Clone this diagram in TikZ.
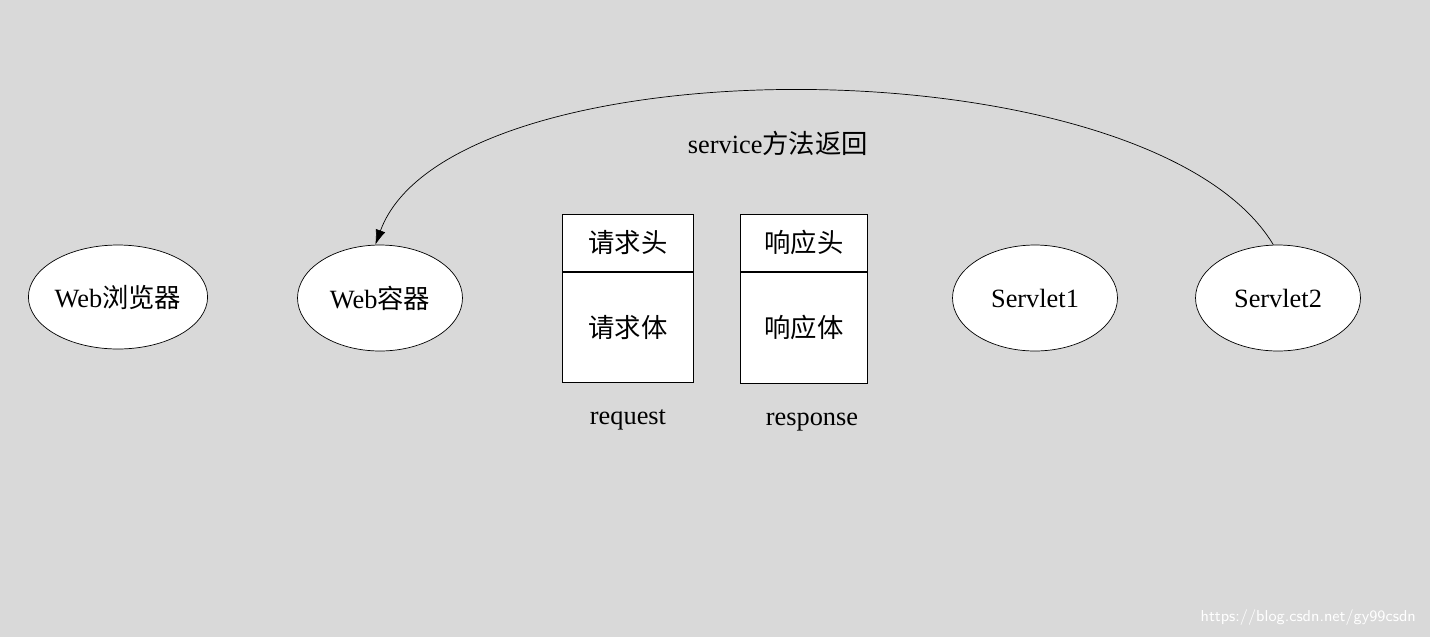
\documentclass[tikz,border=0pt]{standalone}
\usepackage{fontspec}
\setmainfont{Liberation Serif}
\newfontfamily\cjk{Noto Sans CJK SC}
\usetikzlibrary{positioning,arrows.meta,shapes.geometric}
\definecolor{bgcolor}{RGB}{217,217,217}

\begin{document}
\begin{tikzpicture}[
  x=0.02cm, y=-0.02cm,
  font=\fontsize{15}{18}\selectfont,
  comp/.style={ellipse, draw, fill=white, minimum width=3.3cm, minimum height=2.12cm, inner sep=0pt},
  part/.style={rectangle, draw, fill=white, anchor=north west, inner sep=0pt},
  arrow/.style={-{Latex[length=3mm,width=2mm]}}
]
  \fill[bgcolor] (0,0) rectangle (1430,637);
  \useasboundingbox (0,0) rectangle (1430,637);

  % Components
  \node[comp, minimum width=3.16cm, minimum height=2.08cm] (browser) at (118,297) {Web{\cjk 浏览器}};
  \node[comp] (container) at (380,298) {Web{\cjk 容器}};
  \node[comp] (servlet1) at (1035,298) {Servlet1};
  \node[comp] (servlet2) at (1278,298) {Servlet2};

  % request / response
  \node[part, minimum width=2.62cm, minimum height=1.14cm] (reqhead) at (562,214) {\cjk 请求头};
  \node[part, minimum width=2.62cm, minimum height=2.2cm, below=0pt of reqhead.south west, anchor=north west] (reqbody) {\cjk 请求体};
  \node[part, minimum width=2.54cm, minimum height=1.14cm] (resphead) at (740,214) {\cjk 响应头};
  \node[part, minimum width=2.54cm, minimum height=2.22cm, below=0pt of resphead.south west, anchor=north west] (respbody) {\cjk 响应体};
  \node (request) at (628,420) {request};
  \node (response) at (812,422) {response};

  % Return call
  \draw[arrow] (servlet2.95) .. controls (1150,40) and (450,40) .. (container.95);
  \node (ret) at (778,143) {service{\cjk 方法返回}};

  \node[text=white, font=\fontsize{9}{11}\selectfont\sffamily, anchor=east] (mark) at (1422,618) {https://blog.csdn.net/gy99csdn};
\end{tikzpicture}
\end{document}
